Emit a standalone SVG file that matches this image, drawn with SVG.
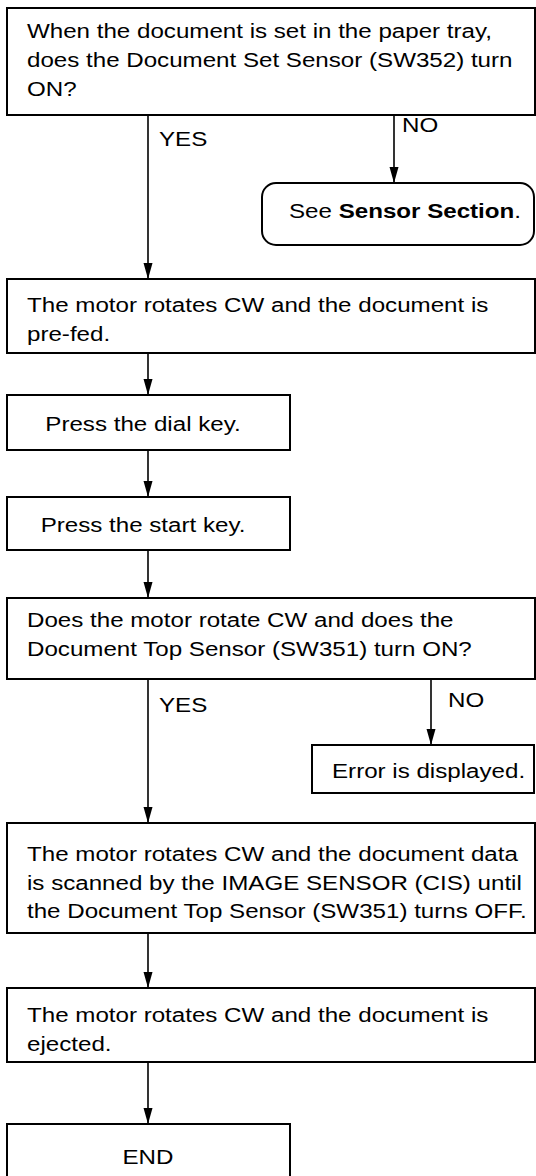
<svg xmlns="http://www.w3.org/2000/svg" width="536" height="1176" viewBox="0 0 536 1176">
<style>
  .box { fill: #ffffff; stroke: #000000; stroke-width: 2; }
  .conn { stroke: #000000; stroke-width: 1.6; fill: none; marker-end: url(#arrow); }
  text { font-family: "Liberation Sans", Arial, sans-serif; font-size: 21px; fill: #000000; }
  .mid { text-anchor: middle; }
  .bold { font-weight: bold; }
</style>
<defs>
  <marker id="arrow" markerUnits="userSpaceOnUse" markerWidth="16" markerHeight="10" viewBox="0 0 16 10" refX="16" refY="5" orient="auto">
    <path d="M0,0.5 L16,5 L0,9.5 Z" fill="#000000"/>
  </marker>
</defs>
<rect width="536" height="1176" fill="#ffffff"/>
<g id="connectors">
  <line class="conn" x1="148" y1="115" x2="148" y2="279"/>
  <line class="conn" x1="394" y1="115" x2="394" y2="183"/>
  <line class="conn" x1="148" y1="353" x2="148" y2="395"/>
  <line class="conn" x1="148" y1="450" x2="148" y2="497"/>
  <line class="conn" x1="148" y1="550" x2="148" y2="598"/>
  <line class="conn" x1="148" y1="679" x2="148" y2="823"/>
  <line class="conn" x1="431" y1="679" x2="431" y2="745"/>
  <line class="conn" x1="148" y1="933" x2="148" y2="988"/>
  <line class="conn" x1="148" y1="1062" x2="148" y2="1124"/>
  <text transform="matrix(1.15 0 0 1 159 146)">YES</text>
  <text transform="matrix(1.15 0 0 1 402 132)">NO</text>
  <text transform="matrix(1.15 0 0 1 159 712)">YES</text>
  <text transform="matrix(1.15 0 0 1 448 707)">NO</text>
</g>
<g id="n1">
  <rect class="box" x="7" y="8" width="528" height="107"/>
  <text transform="matrix(1.15 0 0 1 27 38)">When the document is set in the paper tray,</text>
  <text transform="matrix(1.15 0 0 1 27 67)">does the Document Set Sensor (SW352) turn</text>
  <text transform="matrix(1.15 0 0 1 27 96)">ON?</text>
</g>
<g id="n2">
  <rect class="box" x="262" y="183" width="272" height="62" rx="14" ry="14"/>
  <text class="mid" transform="matrix(1.15 0 0 1 405 218)">See <tspan class="bold">Sensor Section</tspan>.</text>
</g>
<g id="n3">
  <rect class="box" x="7" y="279" width="528" height="74"/>
  <text transform="matrix(1.15 0 0 1 27 312)">The motor rotates CW and the document is</text>
  <text transform="matrix(1.15 0 0 1 27 341)">pre-fed.</text>
</g>
<g id="n4">
  <rect class="box" x="7" y="395" width="283" height="55"/>
  <text class="mid" transform="matrix(1.15 0 0 1 143 431)">Press the dial key.</text>
</g>
<g id="n5">
  <rect class="box" x="7" y="497" width="283" height="53"/>
  <text class="mid" transform="matrix(1.15 0 0 1 143 532)">Press the start key.</text>
</g>
<g id="n6">
  <rect class="box" x="7" y="598" width="528" height="81"/>
  <text transform="matrix(1.15 0 0 1 27 627)">Does the motor rotate CW and does the</text>
  <text transform="matrix(1.15 0 0 1 27 656)">Document Top Sensor (SW351) turn ON?</text>
</g>
<g id="n7">
  <rect class="box" x="312" y="745" width="222" height="48"/>
  <text transform="matrix(1.15 0 0 1 332 778)">Error is displayed.</text>
</g>
<g id="n8">
  <rect class="box" x="7" y="823" width="528" height="110"/>
  <text transform="matrix(1.15 0 0 1 27 861)">The motor rotates CW and  the document data</text>
  <text transform="matrix(1.15 0 0 1 27 890)">is scanned by the IMAGE SENSOR (CIS) until</text>
  <text transform="matrix(1.15 0 0 1 27 918)">the Document Top Sensor (SW351) turns OFF.</text>
</g>
<g id="n9">
  <rect class="box" x="7" y="988" width="528" height="74"/>
  <text transform="matrix(1.15 0 0 1 27 1022)">The motor rotates CW and the document is</text>
  <text transform="matrix(1.15 0 0 1 27 1051)">ejected.</text>
</g>
<g id="n10">
  <rect class="box" x="7" y="1124" width="283" height="62"/>
  <text class="mid" transform="matrix(1.15 0 0 1 148 1164)">END</text>
</g>
</svg>
